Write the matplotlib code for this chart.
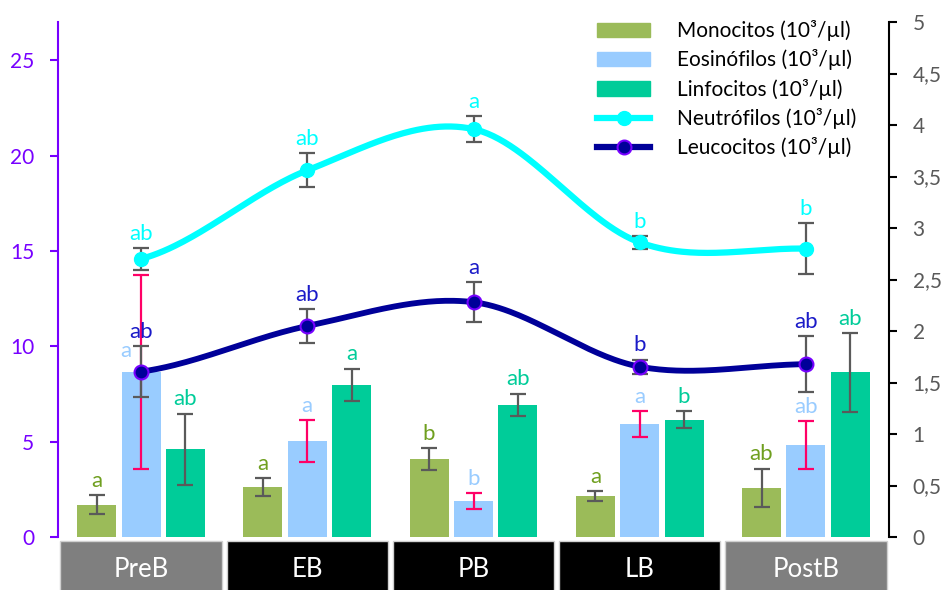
import numpy as np
import matplotlib
matplotlib.use("Agg")
import matplotlib.pyplot as plt
from matplotlib.patches import Rectangle
from matplotlib.lines import Line2D
from matplotlib.patches import Patch
import matplotlib.transforms as mtransforms

plt.rcParams['font.family'] = ['Lato', 'DejaVu Sans']

# Periods
periods = ['PreB', 'EB', 'PB', 'LB', 'PostB']
box_colors = ['#7f7f7f', '#000000', '#000000', '#000000', '#7f7f7f']

# Bars (left axis, 10^3/µl)
mono = [1.68, 2.62, 4.09, 2.15, 2.59]
mono_err = [0.50, 0.45, 0.56, 0.24, 1.00]
mono_let = ['a', 'a', 'b', 'a', 'ab']

eos = [8.65, 5.03, 1.89, 5.93, 4.82]
eos_err = [5.10, 1.09, 0.42, 0.69, 1.27]
eos_let = ['a', 'a', 'b', 'a', 'ab']

linf = [4.61, 7.97, 6.92, 6.14, 8.64]
linf_err = [1.86, 0.86, 0.60, 0.44, 2.07]
linf_let = ['ab', 'a', 'ab', 'b', 'ab']

# Lines
leuc = [8.67, 11.06, 12.31, 8.93, 9.06]          # left axis
leuc_err = [1.33, 0.89, 1.05, 0.37, 1.47]
leuc_let = ['ab', 'ab', 'a', 'b', 'ab']

neut = [2.70, 3.56, 3.96, 2.86, 2.80]            # right axis
neut_err = [0.105, 0.165, 0.125, 0.065, 0.245]
neut_let = ['ab', 'ab', 'a', 'b', 'b']

C_MONO, C_EOS, C_LINF = '#9bbb59', '#99ccff', '#00cc99'
C_MONO_T = '#6f9f1f'
C_NEUT, C_LEUC, C_LEUC_T = '#00ffff', '#000099', '#1a1ac8'
PURPLE = '#7700ff'
ERR = '#5a5a5a'
PINK = '#ff0066'


def smooth(y, n=60):
    # Bezier smoothing (same style as spreadsheet "smoothed line")
    x = np.arange(len(y), dtype=float)
    y = np.asarray(y, dtype=float)
    xs, ys = [], []
    for i in range(len(y) - 1):
        y0 = y[i - 1] if i > 0 else y[i]
        y3 = y[i + 2] if i + 2 < len(y) else y[i + 1]
        c1 = y[i] + (y[i + 1] - y0) / 6
        c2 = y[i + 1] - (y3 - y[i]) / 6
        t = np.linspace(0, 1, n)
        ys.append((1 - t) ** 3 * y[i] + 3 * (1 - t) ** 2 * t * c1
                  + 3 * (1 - t) * t ** 2 * c2 + t ** 3 * y[i + 1])
        xs.append(x[i] + t)
    return np.concatenate(xs), np.concatenate(ys)


fig = plt.figure(figsize=(9.44, 5.9), dpi=100)
ax = fig.add_axes([58 / 944, 1 - 537 / 590, (889 - 58) / 944, (537 - 22) / 590])
ax2 = ax.twinx()

x = np.arange(len(periods))
w = 0.234
off = 0.267

ax.bar(x - off, mono, w, color=C_MONO, zorder=2)
ax.bar(x, eos, w, color=C_EOS, zorder=2)
ax.bar(x + off, linf, w, color=C_LINF, zorder=2)

eb_kw = dict(fmt='none', capsize=5.5, elinewidth=1.6, capthick=1.6)
ax.errorbar(x - off, mono, yerr=mono_err, ecolor=ERR, zorder=3, **eb_kw)
ax.errorbar(x, eos, yerr=eos_err, ecolor=PINK, zorder=3, **eb_kw)
ax.errorbar(x + off, linf, yerr=linf_err, ecolor=ERR, zorder=3, **eb_kw)

sx, sy = smooth(leuc)
ax.plot(sx, sy, color=C_LEUC, lw=4.2, zorder=4, solid_capstyle='round')
ax.errorbar(x, leuc, yerr=leuc_err, ecolor=ERR, zorder=5, **eb_kw)
ax.plot(x, leuc, 'o', ms=10, mfc=C_LEUC, mec=PURPLE, mew=1.5, zorder=6)

sx, sy = smooth(neut)
ax2.plot(sx, sy, color=C_NEUT, lw=4.5, zorder=4, solid_capstyle='round')
ax2.errorbar(x, neut, yerr=neut_err, ecolor=ERR, zorder=5, **eb_kw)
ax2.plot(x, neut, 'o', ms=10, mfc=C_NEUT, mec=C_NEUT, zorder=6)

# significance letters above the error bars
lt_kw = dict(textcoords='offset points', xytext=(0, 3), ha='center',
             va='bottom', fontsize=16)
for i in range(len(periods)):
    ax.annotate(mono_let[i], (x[i] - off, mono[i] + mono_err[i]), color=C_MONO_T, **lt_kw)
    ax.annotate(linf_let[i], (x[i] + off, linf[i] + linf_err[i]), color=C_LINF, **lt_kw)
    ax.annotate(leuc_let[i], (x[i], leuc[i] + leuc_err[i]), color=C_LEUC_T, **lt_kw)
    ax2.annotate(neut_let[i], (x[i], neut[i] + neut_err[i]), color=C_NEUT, **lt_kw)
    if i == 0:
        ax.annotate(eos_let[i], (x[i] - 0.09, 9.0), color=C_EOS, **lt_kw)
    else:
        ax.annotate(eos_let[i], (x[i], eos[i] + eos_err[i]), color=C_EOS, **lt_kw)

ax.set_xlim(-0.5, 4.5)
ax.set_ylim(0, 27)
ax2.set_ylim(0, 5)
ax.set_xticks([])

ax.set_yticks(np.arange(0, 26, 5))
ax.tick_params(axis='y', colors=PURPLE, labelsize=15, length=6, width=1.5, pad=11)
ax2.set_yticks(np.arange(0, 5.01, 0.5))
ax2.set_yticklabels([f'{v:g}'.replace('.', ',') for v in np.arange(0, 5.01, 0.5)])
ax2.tick_params(axis='y', colors='#000000', labelcolor='#595959', labelsize=15,
                length=6, width=1.5, pad=11)

for a in (ax, ax2):
    for s in ('top', 'bottom'):
        a.spines[s].set_visible(False)
ax.spines['right'].set_visible(False)
ax2.spines['left'].set_visible(False)
ax.spines['left'].set_color(PURPLE)
ax.spines['left'].set_linewidth(1.5)
ax2.spines['right'].set_linewidth(1.5)

# period boxes under the plot
trans = mtransforms.blended_transform_factory(ax.transData, ax.transAxes)
for i, (p, c) in enumerate(zip(periods, box_colors)):
    ax.add_patch(Rectangle((i - 0.485, -0.115), 0.97, 0.107, transform=trans,
                           facecolor=c, edgecolor='#d0d0d0', lw=1, clip_on=False))
    ax.text(i, -0.063, p, transform=trans, ha='center', va='center',
            color='white', fontsize=18.5)

handles = [Patch(color=C_MONO), Patch(color=C_EOS), Patch(color=C_LINF),
           Line2D([], [], color=C_NEUT, lw=4.5, marker='o', ms=10, mfc=C_NEUT, mec=C_NEUT),
           Line2D([], [], color=C_LEUC, lw=4.5, marker='o', ms=10, mfc=C_LEUC, mec=PURPLE, mew=1.5)]
labels = ['Monocitos (10³/µl)', 'Eosinófilos (10³/µl)', 'Linfocitos (10³/µl)',
          'Neutrófilos (10³/µl)', 'Leucocitos (10³/µl)']
ax2.legend(handles, labels, loc='upper left', bbox_to_anchor=(593 / 944, 1 - 16 / 590),
           bbox_transform=fig.transFigure, frameon=False, fontsize=15,
           handlelength=2.55, handleheight=0.67, handletextpad=1.3, labelspacing=0.4,
           borderaxespad=0, borderpad=0.2)

fig.savefig('out.png', dpi=100)
